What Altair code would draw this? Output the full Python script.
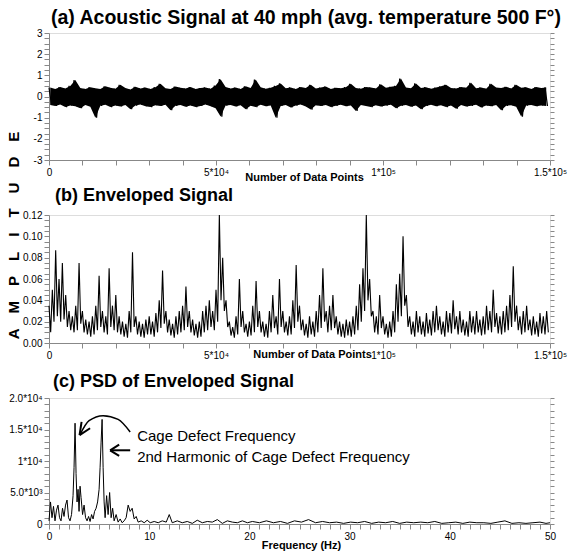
import altair as alt
import pandas as pd

# ---------------- data ----------------
# (a) acoustic signal: upper / lower excursions per 1500-sample bin
a_hi = [0.42,0.35,0.45,0.38,0.5,0.78,0.4,0.36,0.44,0.39,
        0.35,0.48,0.41,0.37,0.55,0.4,0.33,0.46,0.38,0.42,
        0.36,0.44,0.6,0.39,0.35,0.47,0.41,0.38,0.45,0.36,
        0.4,0.43,0.37,0.52,0.82,0.45,0.38,0.42,0.36,0.48,
        0.4,0.8,0.44,0.37,0.41,0.5,0.62,0.39,0.43,0.36,
        0.45,0.4,0.55,0.38,0.42,0.47,0.36,0.41,0.39,0.44,
        0.6,0.4,0.37,0.45,0.42,0.38,0.58,0.41,0.46,0.5,
        0.85,0.43,0.39,0.62,0.4,0.44,0.37,0.42,0.48,0.55,
        0.4,0.38,0.45,0.41,0.65,0.39,0.43,0.37,0.6,0.42,
        0.4,0.46,0.38,0.55,0.41,0.44,0.36,0.45,0.4,0.43]
a_lo = [-0.4,-0.45,-0.38,-0.5,-0.42,-0.46,-0.55,-0.4,-0.48,-1.0,
        -0.44,-0.39,-0.5,-0.42,-0.47,-0.4,-0.6,-0.43,-0.38,-0.46,
        -0.5,-0.41,-0.45,-0.39,-0.65,-0.44,-0.4,-0.48,-0.42,-0.5,
        -0.45,-0.38,-0.46,-0.55,-0.95,-0.43,-0.4,-0.47,-0.41,-0.6,
        -0.44,-0.5,-0.39,-0.46,-0.42,-1.0,-0.45,-0.4,-0.52,-0.43,
        -0.38,-0.47,-0.62,-0.41,-0.45,-0.4,-0.5,-0.44,-0.39,-0.46,
        -0.42,-0.68,-0.4,-0.45,-0.5,-0.41,-0.47,-0.43,-0.39,-0.55,
        -0.44,-0.4,-0.48,-0.42,-0.6,-0.45,-0.39,-0.46,-0.41,-0.5,
        -0.43,-0.58,-0.4,-0.47,-0.44,-0.39,-0.52,-0.42,-0.46,-0.4,
        -0.65,-0.44,-0.41,-0.48,-0.95,-0.43,-0.4,-0.46,-0.42,-0.45]
a_step = 1500

# (b) enveloped signal: upper / lower values per 1000-sample bin
b_hi = [0.035,0.05,0.087,0.06,0.075,0.045,0.03,0.025,0.035,0.075,
        0.03,0.022,0.02,0.025,0.035,0.063,0.03,0.025,0.07,0.035,
        0.045,0.025,0.02,0.018,0.03,0.085,0.025,0.02,0.018,0.022,
        0.025,0.02,0.028,0.04,0.068,0.03,0.022,0.018,0.025,0.03,
        0.035,0.053,0.03,0.022,0.018,0.02,0.03,0.035,0.04,0.03,
        0.05,0.12,0.08,0.04,0.02,0.015,0.025,0.06,0.03,0.018,
        0.02,0.035,0.058,0.03,0.02,0.018,0.03,0.045,0.025,0.06,
        0.03,0.02,0.025,0.04,0.073,0.035,0.022,0.018,0.025,0.02,
        0.03,0.045,0.07,0.03,0.035,0.045,0.025,0.02,0.018,0.022,
        0.02,0.025,0.035,0.055,0.07,0.12,0.06,0.03,0.025,0.045,
        0.025,0.018,0.02,0.03,0.055,0.065,0.1,0.045,0.025,0.02,
        0.03,0.025,0.02,0.028,0.022,0.03,0.035,0.025,0.02,0.03,
        0.028,0.04,0.025,0.03,0.022,0.02,0.03,0.025,0.03,0.022,
        0.025,0.035,0.03,0.05,0.028,0.025,0.03,0.035,0.045,0.072,
        0.035,0.025,0.03,0.035,0.022,0.025,0.02,0.028,0.025,0.03]
b_lo = [0.01,0.02,0.025,0.02,0.022,0.015,0.012,0.01,0.012,0.018,
        0.01,0.008,0.006,0.008,0.012,0.015,0.01,0.008,0.015,0.012,
        0.01,0.008,0.006,0.005,0.01,0.015,0.008,0.006,0.005,0.008,
        0.008,0.006,0.01,0.014,0.018,0.01,0.007,0.005,0.008,0.01,
        0.012,0.015,0.01,0.007,0.005,0.006,0.01,0.012,0.015,0.012,
        0.02,0.04,0.03,0.015,0.007,0.005,0.008,0.015,0.01,0.006,
        0.007,0.01,0.015,0.01,0.006,0.005,0.01,0.014,0.008,0.015,
        0.01,0.007,0.008,0.014,0.02,0.012,0.007,0.005,0.008,0.006,
        0.01,0.014,0.02,0.01,0.012,0.014,0.008,0.006,0.005,0.007,
        0.006,0.008,0.012,0.02,0.03,0.04,0.025,0.01,0.008,0.014,
        0.008,0.005,0.006,0.01,0.02,0.025,0.035,0.015,0.008,0.006,
        0.01,0.008,0.006,0.009,0.007,0.01,0.012,0.008,0.006,0.01,
        0.009,0.013,0.008,0.01,0.007,0.006,0.01,0.008,0.01,0.007,
        0.008,0.012,0.01,0.015,0.009,0.008,0.01,0.012,0.015,0.02,
        0.012,0.008,0.01,0.012,0.007,0.008,0.006,0.009,0.008,0.01]
b_step = 1000

# (c) PSD of enveloped signal
c_freq = [0.0,0.15,0.3,0.45,0.6,0.75,0.9,1.05,1.2,1.35,
          1.5,1.65,1.8,1.95,2.1,2.25,2.4,2.5,2.6,2.7,
          2.8,2.9,3.0,3.1,3.2,3.35,3.5,3.65,3.8,3.95,
          4.1,4.25,4.4,4.55,4.7,4.85,5.0,5.1,5.2,5.3,
          5.4,5.5,5.6,5.75,5.9,6.05,6.2,6.35,6.5,6.7,
          6.9,7.1,7.3,7.5,7.7,7.9,8.1,8.3,8.5,8.7,
          8.9,9.2,9.5,9.8,10.1,10.5,10.9,11.3,11.7,12.0,
          12.3,12.8,13.3,13.8,14.3,14.8,15.3,15.8,16.3,16.8,
          17.3,17.8,18.3,18.8,19.3,19.8,20.3,21.0,21.7,22.4,
          23.1,23.8,24.5,25.2,25.9,26.6,27.3,28.0,28.7,29.4,
          30.1,30.8,31.5,32.2,32.9,33.6,34.3,35.0,35.7,36.4,
          37.1,37.8,38.5,39.2,39.9,40.6,41.3,42.0,42.7,43.4,
          44.1,44.8,45.5,46.2,46.9,47.6,48.3,49.0,49.6,50.0]
c_psd = [0.05,0.35,0.1,0.28,0.05,0.22,0.3,0.1,0.05,0.25,
         0.12,0.3,0.38,0.1,0.05,0.15,0.45,0.9,1.6,0.8,
         0.35,0.55,0.2,0.6,0.42,0.15,0.3,0.1,0.05,0.12,
         0.04,0.15,0.08,0.2,0.25,0.35,0.55,0.9,1.3,1.66,
         0.9,0.35,0.1,0.45,0.15,0.5,0.1,0.25,0.05,0.15,
         0.03,0.08,0.02,0.05,0.1,0.3,0.2,0.25,0.08,0.12,
         0.03,0.05,0.02,0.06,0.02,0.04,0.02,0.05,0.03,0.15,
         0.02,0.05,0.02,0.04,0.01,0.06,0.02,0.04,0.03,0.07,
         0.01,0.05,0.03,0.02,0.05,0.02,0.04,0.02,0.05,0.02,
         0.04,0.01,0.05,0.03,0.07,0.02,0.04,0.02,0.03,0.01,
         0.03,0.02,0.04,0.01,0.03,0.02,0.04,0.01,0.03,0.02,
         0.03,0.02,0.04,0.01,0.02,0.03,0.01,0.03,0.02,0.02,
         0.01,0.03,0.05,0.01,0.02,0.01,0.02,0.03,0.01,0.02]

# tick labels
x_major = [0, 50000, 100000, 150000]
x_major_labels = ["0", "5*10⁴", "1*10⁵", "1.5*10⁵"]
a_y_major = [-3, -2, -1, 0, 1, 2, 3]
a_y_labels = ["-3", "-2", "-1", "0", "1", "2", "3"]
b_y_major = [0, 0.02, 0.04, 0.06, 0.08, 0.1, 0.12]
b_y_labels = ["0.00", "0.02", "0.04", "0.06", "0.08", "0.10", "0.12"]
c_x_major = [0, 10, 20, 30, 40, 50]
c_x_labels = ["0", "10", "20", "30", "40", "50"]
c_y_major = [0, 0.5, 1.0, 1.5, 2.0]
c_y_labels = ["0", "5.0*10³", "1*10⁴", "1.5*10⁴", "2.0*10⁴"]

# annotation texts and arrows (in data units of panel c)
note_text = ["Cage Defect Frequency", "2nd Harmonic of Cage Defect Frequency"]
note_x = [8.8, 8.8]
note_y = [1.39, 1.06]
arc_x = [3.1, 4.0, 5.4, 6.9, 8.1]
arc_y = [1.42, 1.64, 1.72, 1.66, 1.46]
seg_id = ["h1", "h1", "h2", "h2", "s", "s", "h3", "h3", "h4", "h4"]
seg_x = [3.05, 3.25, 3.05, 4.1, 6.1, 8.1, 6.1, 7.0, 6.1, 7.0]
seg_y = [1.41, 1.62, 1.41, 1.52, 1.17, 1.17, 1.17, 1.26, 1.17, 1.08]

# ---------------- helpers ----------------
LABEL_FONT = "Liberation Sans Narrow, Liberation Sans, Arial"
TITLE_FONT = "Liberation Sans, Arial"
TEXT_FONT = "Liberation Sans, Arial"


def label_expr(vals, labels):
    s = ""
    for v, l in zip(vals, labels):
        s += f"abs(datum.value - ({v})) < 1e-7 ? '{l}' : "
    return s + "''"


def zigzag(hi, lo, step):
    n, v = [], []
    for i, (h, l) in enumerate(zip(hi, lo)):
        n += [i * step, i * step + step / 2]
        v += [h, l]
    return pd.DataFrame({"n": n, "v": v})


W = 501

df_a = zigzag(a_hi, a_lo, a_step)
df_a_band = pd.DataFrame({"n": [i * a_step + a_step / 4 for i in range(len(a_hi))],
                          "hi": a_hi, "lo": a_lo})
df_b = zigzag(b_hi, b_lo, b_step)
df_c = pd.DataFrame({"f": c_freq, "p": c_psd})

x_ticks = list(range(0, 150001, 10000))


def x_axis(values, expr, title, tx, ty):
    return alt.Axis(values=values, labelExpr=expr, title=title, titleX=tx, titleY=ty,
                    grid=False, titleBaseline="top", labelFlush=False, labelOverlap=False)


def right_axis(df, xf, yf, xscale, xaxis, yscale, yticks):
    return alt.Chart(df).mark_line(opacity=0).encode(
        x=alt.X(xf, scale=xscale, axis=xaxis),
        y=alt.Y(yf, scale=yscale,
                axis=alt.Axis(orient="right", labels=False, values=yticks, grid=False,
                              title=None, domain=False, tickSize=4)),
    )


def title(text, size, offset, dx):
    return alt.TitleParams(text, anchor="start", frame="group", font=TITLE_FONT,
                           fontSize=size, fontWeight="bold", offset=offset, dx=dx)


# ---------------- panel (a) ----------------
HA, HB, HC = 127, 128, 126
xs_a = alt.Scale(domain=[0, 150000], nice=False, zero=False)
ys_a = alt.Scale(domain=[-3, 3], nice=False)
xa_axis = x_axis(x_ticks, label_expr(x_major, x_major_labels), "Number of Data Points", 255, 11)
a_yticks = [i * 0.25 - 3 for i in range(25)]
line_a = alt.Chart(df_a).mark_line(color="black", strokeWidth=1.2).encode(
    x=alt.X("n:Q", scale=xs_a, axis=xa_axis),
    y=alt.Y("v:Q", scale=ys_a,
            axis=alt.Axis(values=a_yticks, labelExpr=label_expr(a_y_major, a_y_labels),
                          title="A\u2003M\u2003P\u2003L\u2003I\u2003T\u2003U\u2003D\u2003E",
                          titleAngle=270, titleX=-36, titleY=202, titleAlign="center",
                          titleBaseline="middle", titleFont=TEXT_FONT, titleFontSize=15,
                          labelOverlap=False, labelFlush=False, grid=False)),
)
band_a = alt.Chart(df_a_band).mark_area(color="black").encode(
    x=alt.X("n:Q", scale=xs_a, axis=xa_axis), y=alt.Y("lo:Q", scale=ys_a, axis=None), y2="hi:Q")
panel_a = alt.layer(line_a, band_a,
                    right_axis(df_a, "n:Q", "v:Q", xs_a, xa_axis, ys_a, a_yticks)).resolve_axis(
    y="independent").properties(
    width=W, height=HA,
    title=title("(a) Acoustic Signal at 40 mph (avg. temperature 500 F°)", 19.5, 0, 2))

# ---------------- panel (b) ----------------
xs_b = alt.Scale(domain=[0, 150000], nice=False, zero=False)
ys_b = alt.Scale(domain=[0, 0.12], nice=False)
xb_axis = x_axis(x_ticks, label_expr(x_major, x_major_labels), "Number of Data Points", 263, 5)
b_yticks = [round(i * 0.005, 3) for i in range(25)]
line_b = alt.Chart(df_b).mark_line(color="black", strokeWidth=1.1).encode(
    x=alt.X("n:Q", scale=xs_b, axis=xb_axis),
    y=alt.Y("v:Q", scale=ys_b,
            axis=alt.Axis(values=b_yticks, labelExpr=label_expr(b_y_major, b_y_labels),
                          title=None, labelOverlap=False, labelFlush=False, grid=False)),
)
panel_b = alt.layer(line_b,
                    right_axis(df_b, "n:Q", "v:Q", xs_b, xb_axis, ys_b, b_yticks)).resolve_axis(
    y="independent").properties(width=W, height=HB,
                                title=title("(b) Enveloped Signal", 18, 5, 6))

# ---------------- panel (c) ----------------
xs_c = alt.Scale(domain=[0, 50], nice=False, zero=False)
ys_c = alt.Scale(domain=[0, 2.0], nice=False)
xc_axis = x_axis(list(range(0, 51)), label_expr(c_x_major, c_x_labels), "Frequency (Hz)", 252, 15)
c_yticks = [round(i * 0.1, 2) for i in range(21)]
line_c = alt.Chart(df_c).mark_line(color="black", strokeWidth=1).encode(
    x=alt.X("f:Q", scale=xs_c, axis=xc_axis),
    y=alt.Y("p:Q", scale=ys_c,
            axis=alt.Axis(values=c_yticks, labelExpr=label_expr(c_y_major, c_y_labels),
                          title=None, labelOverlap=False, labelFlush=False, grid=False)),
)
notes = alt.Chart(pd.DataFrame({"t": note_text, "f": note_x, "p": note_y})).mark_text(
    align="left", baseline="middle", font=TEXT_FONT, fontSize=15, color="black").encode(
    x=alt.X("f:Q", scale=xs_c, axis=xc_axis), y=alt.Y("p:Q", scale=ys_c, axis=None), text="t:N")
arc = alt.Chart(pd.DataFrame({"f": arc_x, "p": arc_y})).mark_line(
    color="black", strokeWidth=1.5, interpolate="monotone").encode(
    x=alt.X("f:Q", scale=xs_c, axis=xc_axis), y=alt.Y("p:Q", scale=ys_c, axis=None))
segs = alt.Chart(pd.DataFrame({"id": seg_id, "f": seg_x, "p": seg_y})).mark_line(
    color="black", strokeWidth=2).encode(
    x=alt.X("f:Q", scale=xs_c, axis=xc_axis), y=alt.Y("p:Q", scale=ys_c, axis=None),
    detail="id:N")

panel_c = alt.layer(line_c, notes, arc, segs,
                    right_axis(df_c, "f:Q", "p:Q", xs_c, xc_axis, ys_c, c_yticks)).resolve_axis(
    y="independent").properties(width=W, height=HC,
                                title=title("(c) PSD of Enveloped Signal", 18, 2, 4))

chart = alt.vconcat(panel_a, panel_b, panel_c, spacing=55, bounds="flush").properties(
    padding={"left": 5, "top": 7, "right": 0, "bottom": 0}
).configure_view(stroke="black", strokeWidth=1.5).configure_axis(
    domainColor="black", domainWidth=1.5, tickColor="black", labelColor="black",
    titleColor="black", grid=False, labelFont=LABEL_FONT, labelFontSize=11,
    labelFontWeight="bold", tickSize=4, labelPadding=1, titleFont=TEXT_FONT,
    titleFontWeight="normal", titleFontSize=12
).configure(background="white")

chart.save("out.html", embed_options={"renderer": "svg", "actions": False})
